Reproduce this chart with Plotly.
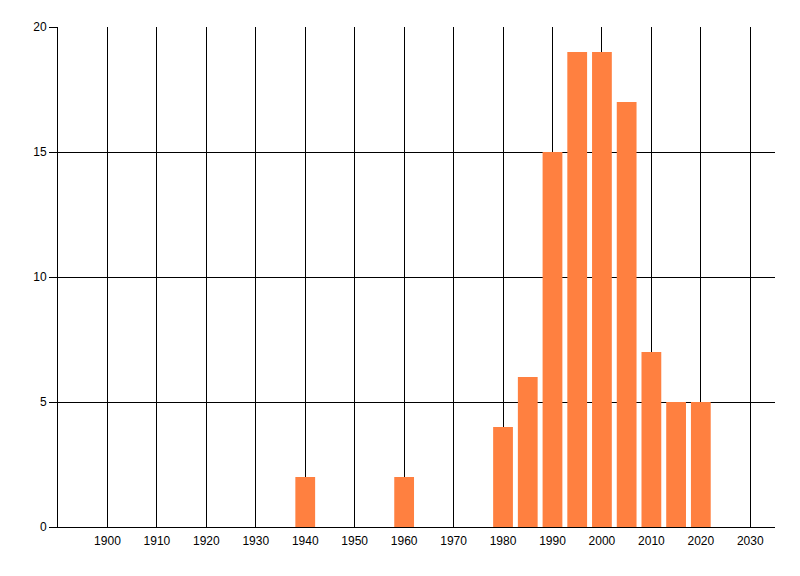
import plotly.graph_objects as go

# years (bin centres) and counts
years = [1940, 1960, 1980, 1985, 1990, 1995, 2000, 2005, 2010, 2015, 2020]
counts = [2, 2, 4, 6, 15, 19, 19, 17, 7, 5, 5]

x_ticks = list(range(1900, 2031, 10))
y_ticks = [0, 5, 10, 15, 20]

fig = go.Figure()

fig.add_trace(go.Bar(
    x=years, y=counts,
    width=4,
    marker=dict(color='#FF8040', line=dict(width=0)),
))

# page body adds 8px, so margins are trimmed on the left/top
fig.update_layout(
    width=800, height=576,
    margin=dict(l=50, r=33, t=19, b=57),
    paper_bgcolor='white', plot_bgcolor='white',
    showlegend=False,
    font=dict(family='Liberation Sans, Arial, sans-serif', size=12, color='black'),
)

fig.update_xaxes(
    range=[1890, 2035],
    tickvals=x_ticks,
    showgrid=True, gridcolor='black', gridwidth=1,
    showline=True, linecolor='black', linewidth=1,
    ticks='outside', ticklen=3, tickcolor='white',  # invisible, just pushes labels down
    zeroline=False,
)
fig.update_yaxes(
    range=[0, 20],
    tickvals=y_ticks,
    showgrid=True, gridcolor='black', gridwidth=1,
    showline=True, linecolor='black', linewidth=1,
    ticks='outside', ticklen=8, tickcolor='black',
    zeroline=False,
)

fig.write_html("out.html")
